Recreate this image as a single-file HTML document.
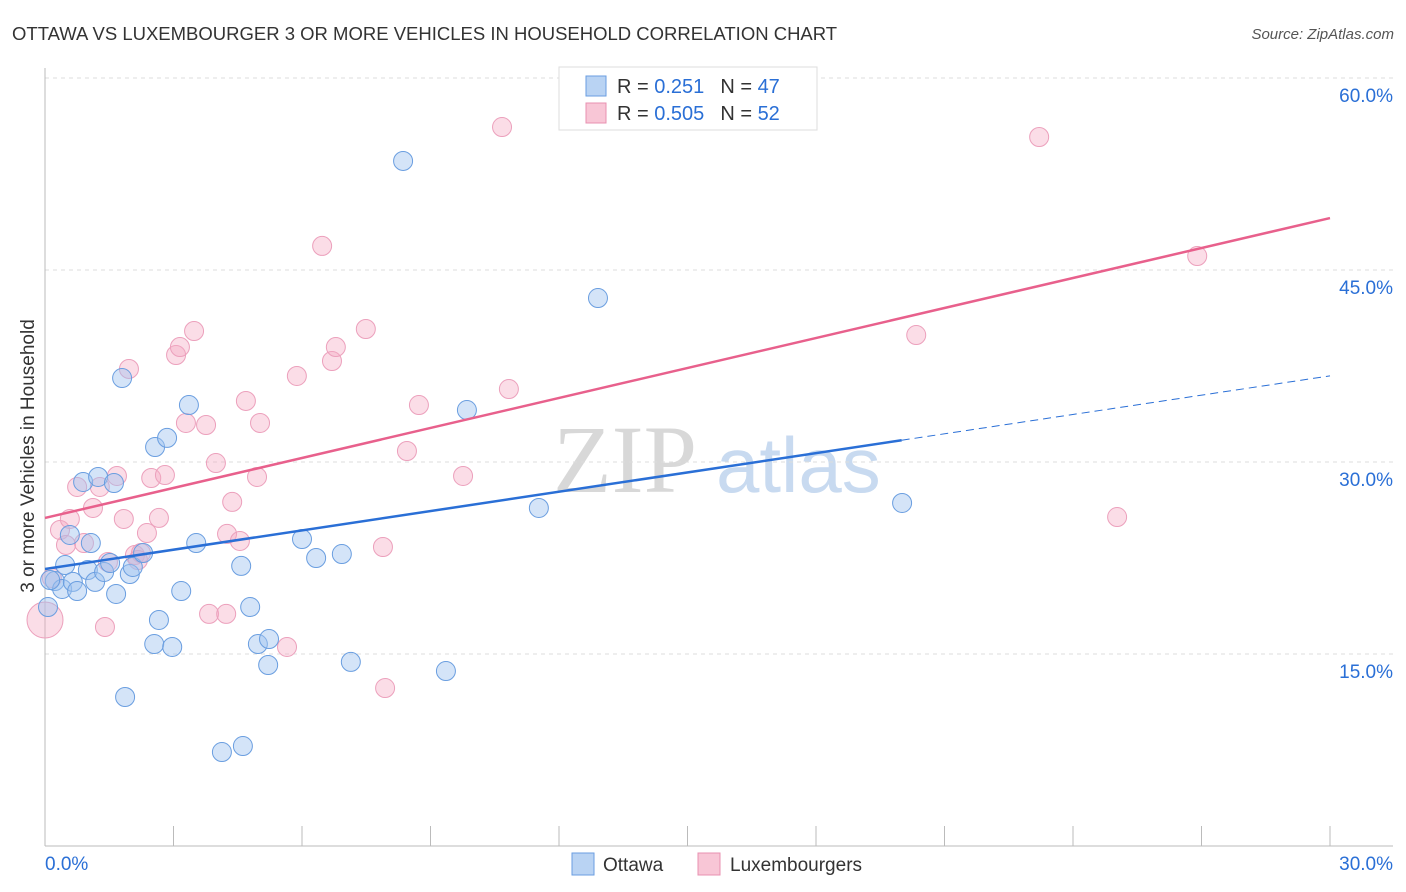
<!DOCTYPE html>
<html><head><meta charset="utf-8"><style>
body{margin:0;background:#fff;font-family:"Liberation Sans",sans-serif}
svg{display:block}
</style></head><body>
<svg id="chart" width="1406" height="892">
<text x="12" y="40" font-size="18.5" fill="#333">OTTAWA VS LUXEMBOURGER 3 OR MORE VEHICLES IN HOUSEHOLD CORRELATION CHART</text>
<text x="1394" y="39" font-size="15" fill="#555" font-style="italic" text-anchor="end">Source: ZipAtlas.com</text>
<g>
<text x="553" y="492" font-family="Liberation Serif,serif" font-size="96" fill="#d8d8d8">ZIP</text>
<text x="716" y="492" font-size="78" fill="#c8daf0">atlas</text>
</g>
<g id="grid"></g><g id="axes"></g><g id="marks"></g>
<text transform="translate(34,456) rotate(-90)" font-size="19" fill="#333" text-anchor="middle">3 or more Vehicles in Household</text>
<g>
<rect x="559" y="67" width="258" height="63" fill="#fff" stroke="#ddd"/>
<rect x="586" y="76" width="20" height="20" fill="#b9d3f3" stroke="#6a9ee0"/>
<text x="617" y="93" font-size="20" fill="#333">R = <tspan fill="#2a6fd6"> 0.251</tspan><tspan dx="16">N = </tspan><tspan fill="#2a6fd6">47</tspan></text>
<rect x="586" y="103" width="20" height="20" fill="#f8c6d6" stroke="#e890b0"/>
<text x="617" y="120" font-size="20" fill="#333">R = <tspan fill="#2a6fd6">0.505</tspan><tspan dx="16">N = </tspan><tspan fill="#2a6fd6">52</tspan></text>
</g>
<g>
<rect x="572" y="853" width="22" height="22" fill="#b9d3f3" stroke="#6a9ee0"/>
<text x="603" y="871" font-size="19" fill="#333">Ottawa</text>
<rect x="698" y="853" width="22" height="22" fill="#f8c6d6" stroke="#e890b0"/>
<text x="730" y="871" font-size="19" fill="#333">Luxembourgers</text>
</g>
</svg>
<script>
const yTicks=[15,30,45,60];
const yTickLabels=["15.0%","30.0%","45.0%","60.0%"];
const xTickLabels=["0.0%","30.0%"];
const ottawaX=[0.07,0.23,0.40,0.47,0.58,0.65,0.75,0.89,1.00,1.07,1.17,1.24,1.38,1.52,1.61,1.66,1.80,1.87,1.98,2.05,2.29,2.57,2.66,2.55,2.85,2.97,3.18,3.36,3.53,4.13,4.58,4.62,4.79,4.97,5.23,5.21,6.00,6.33,6.93,7.14,8.36,9.36,9.85,11.53,12.91,20.01,0.12];
const ottawaY=[18.67,20.70,20.08,21.95,24.30,20.63,19.92,28.44,21.56,23.67,20.63,28.83,21.41,22.11,28.36,19.69,36.56,11.64,21.25,21.80,22.89,31.17,17.66,15.78,31.88,15.55,19.92,34.45,23.67,7.34,21.88,7.81,18.67,15.78,16.17,14.14,23.98,22.50,22.81,14.38,53.52,13.67,34.06,26.41,42.81,26.80,20.78];
const luxX=[0.00,0.16,0.35,0.49,0.58,0.75,0.91,1.12,1.28,1.40,1.47,1.68,1.84,1.96,2.10,2.24,2.38,2.48,2.66,2.80,3.06,3.15,3.29,3.48,3.76,3.99,3.83,4.23,4.25,4.37,4.55,4.69,4.95,5.02,5.65,5.88,6.47,6.70,6.79,7.49,7.89,7.94,8.45,8.73,9.76,10.67,10.83,20.34,23.21,25.03,26.90,2.17];
const luxY=[17.66,20.94,24.69,23.52,25.55,28.05,23.67,26.41,28.05,17.11,22.19,28.91,25.55,37.27,22.73,22.89,24.45,28.75,25.63,28.98,38.36,38.98,33.05,40.23,32.89,29.92,18.13,18.13,24.38,26.88,23.83,34.77,28.83,33.05,15.55,36.72,46.88,37.89,38.98,40.39,23.36,12.34,30.86,34.45,28.91,56.17,35.70,39.92,55.39,25.70,46.09,22.34];
const ottawaTrend=[21.64,0.503,20.0];
const luxTrend=[25.63,0.781];
const sx=v=>45+v/30*1285;
const sy=v=>846-v/15*192;
const NS="http://www.w3.org/2000/svg";
function mk(t,a,p){const e=document.createElementNS(NS,t);for(const k in a)e.setAttribute(k,a[k]);p.appendChild(e);return e;}
const grid=document.getElementById('grid'),axes=document.getElementById('axes'),marks=document.getElementById('marks');
yTicks.forEach((v,i)=>{
 const l=mk('line',{x1:45,x2:1393,y1:sy(v),y2:sy(v),stroke:'#ddd','stroke-dasharray':'4,4'},grid);
 
 
 const t=mk('text',{x:1393,y:sy(v)+24,'font-size':19,fill:'#2a6fd6','text-anchor':'end'},axes);
 t.textContent=yTickLabels[i];
 
 
});
const ax=mk('line',{x1:45,x2:1393,y1:846,y2:846,stroke:'#bbb'},axes);


const ay=mk('line',{x1:45,x2:45,y1:68,y2:846,stroke:'#bbb'},axes);


for(let i=0;i<=10;i++){
 const tk=mk('line',{x1:sx(i*3),x2:sx(i*3),y1:826,y2:846,stroke:'#bbb'},axes);
 
 
}
[[0,'start',45],[30,'end',1393]].forEach((d,i)=>{
 const t=mk('text',{x:d[2],y:870,'font-size':19,fill:'#2a6fd6','text-anchor':d[1]},axes);
 t.textContent=xTickLabels[i];
 
 
});
luxX.forEach((x,i)=>{
 const c=mk('circle',{cx:sx(x),cy:sy(luxY[i]),r:i===0?18:9.5,fill:'rgba(245,170,195,0.4)',stroke:'#eca0bc','stroke-width':1},marks);
 
 
});
ottawaX.forEach((x,i)=>{
 const c=mk('circle',{cx:sx(x),cy:sy(ottawaY[i]),r:9.5,fill:'rgba(160,196,240,0.45)',stroke:'#6a9ee0','stroke-width':1},marks);
 
 
});
const fo=x=>ottawaTrend[0]+ottawaTrend[1]*x, fl=x=>luxTrend[0]+luxTrend[1]*x;
const t1=mk('line',{x1:sx(0),y1:sy(fo(0)),x2:sx(ottawaTrend[2]),y2:sy(fo(ottawaTrend[2])),stroke:'#2a6fd6','stroke-width':2.5},marks);


const t2=mk('line',{x1:sx(ottawaTrend[2]),y1:sy(fo(ottawaTrend[2])),x2:sx(30),y2:sy(fo(30)),stroke:'#2a6fd6','stroke-width':1,'stroke-dasharray':'8,5'},marks);


const t3=mk('line',{x1:sx(0),y1:sy(fl(0)),x2:sx(30),y2:sy(fl(30)),stroke:'#e8608c','stroke-width':2.5},marks);


</script>
</body></html>
